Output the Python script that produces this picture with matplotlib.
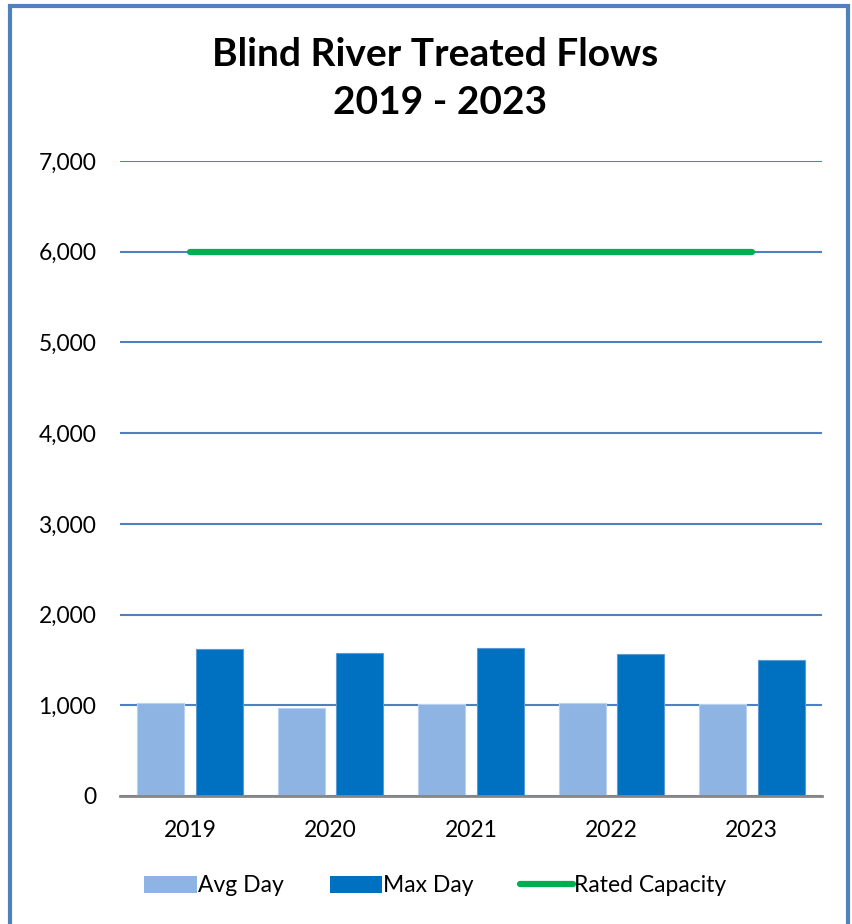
import matplotlib
matplotlib.use("Agg")
import matplotlib.pyplot as plt
import numpy as np
from matplotlib.patches import Rectangle, Patch
from matplotlib.lines import Line2D
from matplotlib.ticker import FuncFormatter

years = ["2019", "2020", "2021", "2022", "2023"]
avg_day = [1022, 973, 1015, 1025, 1014]
max_day = [1617, 1573, 1634, 1562, 1500]
rated_capacity = [6000, 6000, 6000, 6000, 6000]

plt.rcParams['font.family'] = ['Lato', 'DejaVu Sans']

fig = plt.figure(figsize=(8.52, 9.24), dpi=100)
W, H = 852, 924
ax = fig.add_axes([120 / W, 1 - 796 / H, 702 / W, (796 - 161) / H])

x = np.arange(len(years))
w = 0.335
ax.bar(x - 0.209, avg_day, width=w, color="#8EB4E3", edgecolor="#B9D1EE", linewidth=0.8, zorder=3, label="Avg Day")
ax.bar(x + 0.209, max_day, width=w, color="#0070C0", edgecolor="#5A9BD5", linewidth=0.8, zorder=3, label="Max Day")
ax.plot(x, rated_capacity, color="#00B050", linewidth=4.5, solid_capstyle="round", zorder=4, label="Rated Capacity")

ax.set_xlim(-0.5, len(years) - 0.5)
ax.set_ylim(0, 7000)
ax.set_yticks(np.arange(0, 7001, 1000))
ax.yaxis.set_major_formatter(FuncFormatter(lambda v, p: f"{int(v):,}"))
ax.set_xticks(x)
ax.set_xticklabels(years)
ax.tick_params(axis="both", length=0, labelsize=16.5, colors="black")
ax.tick_params(axis="x", pad=17)
ax.tick_params(axis="y", pad=17)
ax.grid(axis="y", color="#4F81BD", linewidth=1.5, zorder=0)
for s in ["top", "right", "left"]:
    ax.spines[s].set_visible(False)
ax.spines["bottom"].set_color("#868686")
ax.spines["bottom"].set_linewidth(2)
ax.spines["bottom"].set_zorder(5)

fig.text(435 / W, 1 - 55 / H, "Blind River Treated Flows", ha="center", va="center",
         fontsize=28, fontweight="bold")
fig.text(440 / W, 1 - 103 / H, "2019 - 2023", ha="center", va="center",
         fontsize=28, fontweight="bold")

handles = [Patch(facecolor="#8EB4E3", edgecolor="none"),
           Patch(facecolor="#0070C0", edgecolor="none"),
           Line2D([0], [0], color="#00B050", linewidth=4.5, solid_capstyle="round")]
fig.legend(handles, ["Avg Day", "Max Day", "Rated Capacity"], loc="center",
           bbox_to_anchor=(435 / W, 1 - 886 / H), ncol=3, frameon=False,
           fontsize=16.5, handlelength=2.3, handletextpad=0.05, columnspacing=2.0)

border = Rectangle((10 / W, -0.05), (848 - 10) / W, 1.05 - 6 / H, transform=fig.transFigure,
                   fill=False, edgecolor="#4F81BD", linewidth=3, clip_on=False)
fig.add_artist(border)

fig.savefig("out.png", dpi=100, facecolor="white")
